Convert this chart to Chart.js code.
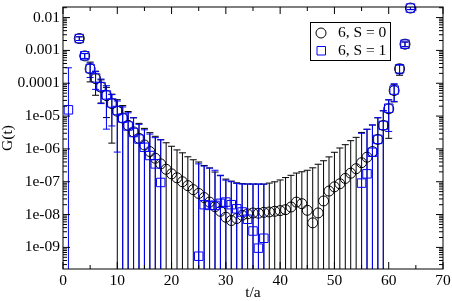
<!DOCTYPE html>
<html>
<head>
<meta charset="utf-8">
<script src="https://cdn.jsdelivr.net/npm/chart.js@4.4.1/dist/chart.umd.min.js"></script>
<style>
  body { margin: 0; background: #fff; }
  canvas { display: block; }
</style>
</head>
<body>
<canvas id="corr-chart" width="452" height="301"></canvas>
<script>
const tValues = [1, 2, 3, 4, 5, 6, 7, 8, 9, 10, 11, 12, 13, 14, 15, 16, 17, 18, 19, 20,
    21, 22, 23, 24, 25, 26, 27, 28, 29, 30, 31, 32, 33, 34, 35, 36, 37, 38, 39, 40,
    41, 42, 43, 44, 45, 46, 47, 48, 49, 50, 51, 52, 53, 54, 55, 56, 57, 58, 59, 60,
    61, 62, 63, 64];

// S = 0
const g0 = [null, null, 2.3e-3, 6.8e-4, 2.75e-4, 1.38e-4, 7.6e-5, 4.2e-5, 2.4e-5, 1.41e-5,
    8.7e-6, 5.25e-6, 3.3e-6, 2.1e-6, 1.32e-6, 8.3e-7, 5.2e-7, 3.5e-7, 2.4e-7, 1.74e-7,
    1.32e-7, 1.0e-7, 7.6e-8, 5.75e-8, 4.4e-8, 3.3e-8, 2.4e-8, 1.74e-8, 1.26e-8, 8.3e-9,
    6.6e-9, 7.6e-9, 9.5e-9, 1.05e-8, 1.12e-8, 1.1e-8, 1.17e-8, 1.2e-8, 1.26e-8, 1.32e-8,
    1.41e-8, 1.7e-8, 2.4e-8, 2.15e-8, 1.35e-8, 5.6e-9, 1.12e-8, 2.6e-8, 5.2e-8, 7.0e-8,
    8.7e-8, 1.26e-7, 1.82e-7, 2.5e-7, 3.8e-7, 5.6e-7, 8.3e-7, 1.95e-6, 5.2e-6, 1.66e-5,
    6.0e-5, 2.75e-4, 1.55e-3, 1.95e-2];
const err0 = [null, null, 3e-4, 1.2e-4, 1.65e-4, 9.5e-5, 5.1e-5, 3.3e-5, 2.25e-5, 1.75e-5,
    1.22e-5, 8.5e-6, 5.6e-6, 3.9e-6, 2.9e-6, 2.3e-6, 1.9e-6, 1.55e-6, 1.3e-6, 1.03e-6,
    8.0e-7, 6.6e-7, 5.0e-7, 4.1e-7, 3.55e-7, 2.8e-7, 2.4e-7, 1.8e-7, 1.4e-7, 1.12e-7,
    9.8e-8, 8.5e-8, 7.8e-8, 7.5e-8, 7.4e-8, 7.4e-8, 7.3e-8, 7.9e-8, 8.7e-8, 1.0e-7,
    1.2e-7, 1.4e-7, 1.6e-7, 1.8e-7, 2.1e-7, 2.6e-7, 3.3e-7, 4.1e-7, 5.2e-7, 7.2e-7,
    9.8e-7, 1.22e-6, 1.6e-6, 2.0e-6, 2.8e-6, 3.4e-6, 4.5e-6, 6.9e-6, 9.3e-6, 1.45e-5,
    3.3e-5, 1.0e-4, 2.5e-4, 2e-3];

// S = 1
const g1 = [1.55e-5, null, 2.3e-3, 6.9e-4, 2.8e-4, 1.45e-4, 7.9e-5, 4.4e-5, 2.5e-5, 1.48e-5,
    8.7e-6, 5.0e-6, 3.16e-6, 2.0e-6, 1.12e-6, 6.3e-7, 3.5e-7, 9.5e-8, null, null,
    null, null, null, null, 5.4e-10, 2.0e-8, 1.9e-8, 1.9e-8, 2.2e-8, 2.4e-8,
    2.0e-8, 1.5e-8, 1.2e-8, 7.2e-9, 3.16e-9, 9.5e-10, 1.9e-9, null, null, null,
    null, null, null, null, null, null, null, null, null, null,
    null, null, null, null, 9.1e-8, 1.74e-7, 7.9e-7, 1.95e-6, 5.2e-6, 1.74e-5,
    6.2e-5, 2.75e-4, 1.55e-3, 1.95e-2];
const err1 = [2.8e-4, null, 3e-4, 1.2e-4, 1.3e-4, 8e-5, 5.5e-5, 4e-5, 2e-5, 1.4e-5,
    1.03e-5, 7.6e-6, 5.7e-6, 3.6e-6, 2.7e-6, 2.2e-6, 1.85e-6, 1.8e-6, null, null,
    null, null, null, null, 3.5e-7, 2.8e-7, 2.4e-7, 2.05e-7, 1.36e-7, 8.8e-8,
    8.0e-8, 7.4e-8, 7.3e-8, 7.8e-8, 8.2e-8, 8.4e-8, 8.3e-8, null, null, null,
    null, null, null, null, null, null, null, null, null, null,
    null, null, null, null, 2.9e-6, 3.8e-6, 4.6e-6, 7.0e-6, 9.3e-6, 1.4e-5,
    3.4e-5, 8e-5, 2.5e-4, 2e-3];

const xTickValues = [0, 10, 20, 30, 40, 50, 60, 70];
const yTickValues = [1e-9, 1e-8, 1e-7, 1e-6, 1e-5, 1e-4, 1e-3, 1e-2];
const yTickLabels = ['1e-09', '1e-08', '1e-07', '1e-06', '1e-05', '0.0001', '0.001', '0.01'];

const serif = { family: 'Liberation Serif', size: 15.5 };

function points(vals, errs) {
    return tValues.map((t, i) => ({ x: t, y: vals[i], err: errs[i] })).filter(p => p.y !== null);
}

// vertical error bars, clipped to the plot
const errorBars = {
    id: 'errorBars',
    beforeDatasetsDraw(chart) {
        const { ctx, chartArea: a, scales: { x, y } } = chart;
        ctx.save();
        ctx.beginPath();
        ctx.rect(a.left, a.top, a.right - a.left, a.bottom - a.top);
        ctx.clip();
        ctx.lineWidth = 1;
        chart.data.datasets.forEach(ds => {
            ctx.strokeStyle = ds.borderColor;
            ds.data.forEach(p => {
                const px = x.getPixelForValue(p.x);
                const top = y.getPixelForValue(p.y + p.err);
                const low = p.y - p.err;
                const bottom = low > 0 ? y.getPixelForValue(low) : a.bottom + 2;
                ctx.beginPath();
                ctx.moveTo(px, top);
                ctx.lineTo(px, bottom);
                ctx.moveTo(px - 3.5, top);
                ctx.lineTo(px + 3.5, top);
                if (low > 0) {
                    ctx.moveTo(px - 3.5, bottom);
                    ctx.lineTo(px + 3.5, bottom);
                }
                ctx.stroke();
            });
        });
        ctx.restore();
    }
};

// frame, inward ticks on all sides, legend box
const frameTicks = {
    id: 'frameTicks',
    afterDraw(chart) {
        const { ctx, chartArea: a, scales: { x, y } } = chart;
        ctx.save();
        ctx.strokeStyle = '#000';
        ctx.lineWidth = 1;
        ctx.strokeRect(a.left, a.top, a.right - a.left, a.bottom - a.top);
        ctx.beginPath();
        for (let i = 0; i < xTickValues.length; i++) {
            const v = xTickValues[i];
            [v, v + 5].forEach((tv, j) => {
                if (tv > x.max) return;
                const px = x.getPixelForValue(tv);
                const len = j === 0 ? 7 : 4;
                ctx.moveTo(px, a.bottom);
                ctx.lineTo(px, a.bottom - len);
                ctx.moveTo(px, a.top);
                ctx.lineTo(px, a.top + len);
            });
        }
        for (let d = -10; d <= -2; d++) {
            for (let k = 1; k <= 9; k++) {
                const v = k * Math.pow(10, d);
                if (v < y.min || v > y.max) continue;
                const py = y.getPixelForValue(v);
                const len = k === 1 ? 7 : 4;
                ctx.moveTo(a.left, py);
                ctx.lineTo(a.left + len, py);
                ctx.moveTo(a.right, py);
                ctx.lineTo(a.right - len, py);
            }
        }
        ctx.stroke();

        // legend
        const lx = 310.5, ly = 22.5;
        ctx.strokeRect(lx, ly, 80, 38);
        ctx.font = '15.5px "Liberation Serif"';
        ctx.fillStyle = '#000';
        ctx.textBaseline = 'middle';
        chart.data.datasets.forEach((ds, i) => {
            const cy = ly + 10.5 + i * 17.5;
            ctx.strokeStyle = ds.borderColor;
            ctx.beginPath();
            if (ds.pointStyle === 'circle') {
                ctx.arc(lx + 10.5, cy, 5, 0, Math.PI * 2);
            } else {
                ctx.rect(lx + 6.5, cy - 4, 8.5, 8.5);
            }
            ctx.stroke();
            ctx.fillText(ds.label, lx + 27.5, cy);
        });
        ctx.restore();
    }
};

new Chart(document.getElementById('corr-chart'), {
    type: 'scatter',
    data: {
        datasets: [{
            label: '6, S = 0',
            data: points(g0, err0),
            pointStyle: 'circle',
            pointRadius: 5,
            borderWidth: 1,
            borderColor: '#000000',
            backgroundColor: 'rgba(0,0,0,0)',
            clip: false,
            order: 2
        },
        {
            label: '6, S = 1',
            data: points(g1, err1),
            pointStyle: 'rect',
            pointRadius: 6,
            borderWidth: 1,
            borderColor: '#0000ff',
            backgroundColor: 'rgba(0,0,0,0)',
            clip: false,
            order: 1
        }]
    },
    options: {
        responsive: false,
        animation: false,
        devicePixelRatio: 1,
        events: [],
        layout: { padding: { top: 4, right: 9, left: 0, bottom: 0 } },
        plugins: {
            legend: { display: false },
            tooltip: { enabled: false }
        },
        scales: {
            x: {
                type: 'linear',
                min: 0,
                max: 70,
                afterBuildTicks: s => { s.ticks = xTickValues.map(v => ({ value: v })); },
                afterFit: s => { s.height = 32; s.paddingLeft = 0; s.paddingRight = 0; },
                grid: { display: false, drawTicks: false },
                border: { display: false },
                ticks: { font: serif, color: '#000', padding: 3, maxRotation: 0, autoSkip: false },
                title: { display: true, text: 't/a', font: { family: 'Liberation Serif', size: 15.5, lineHeight: 1 }, color: '#000', padding: 0 }
            },
            y: {
                type: 'logarithmic',
                min: 2.2e-10,
                max: 0.021,
                afterBuildTicks: s => { s.ticks = yTickValues.map(v => ({ value: v })); },
                afterFit: s => { s.width = 63; s.paddingTop = 0; s.paddingBottom = 0; },
                grid: { display: false, drawTicks: false },
                border: { display: false },
                ticks: { font: serif, color: '#000', padding: 3, autoSkip: false, callback: (v, i) => yTickLabels[i] },
                title: { display: true, text: 'G(t)', font: { family: 'Liberation Serif', size: 15.5, lineHeight: 1 }, color: '#000', padding: 0 }
            }
        }
    },
    plugins: [errorBars, frameTicks]
});
</script>
</body>
</html>
